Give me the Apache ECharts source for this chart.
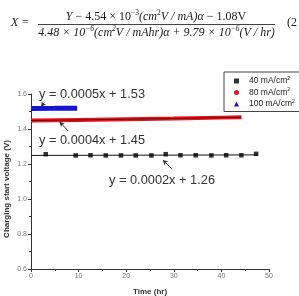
<!DOCTYPE html>
<html><head><meta charset="utf-8">
<script src="https://cdn.jsdelivr.net/npm/echarts@6/dist/echarts.min.js"></script>
<style>html,body{margin:0;padding:0;background:#fff}#c{width:299px;height:296px}</style>
</head><body><div id="c"></div>
<script>
// ---- data ----
const seriesNames = ['40 mA/cm2', '80 mA/cm2', '100 mA/cm2'];
const black40 = [[3.1,1.256],[9.4,1.249],[12.5,1.250],[15.7,1.249],[18.9,1.249],[22.0,1.249],[25.3,1.249],[28.3,1.256],[31.4,1.250],[34.6,1.250],[37.9,1.249],[41.0,1.250],[44.2,1.250],[47.3,1.258]];
const fit40 = [[0,1.249],[47.6,1.252]];
const red80 = [[0,1.448],[10,1.452],[20,1.456],[30,1.460],[40,1.465],[44.2,1.467]];
const blue100 = [[0,1.517],[5,1.518],[9.7,1.519]];
const xTicks = [0,10,20,30,40,50];
const yTicks = [0.6,0.8,1.0,1.2,1.4,1.6];
const fitLabels = ['y = 0.0005x + 1.53', 'y = 0.0004x + 1.45', 'y = 0.0002x + 1.26'];
// annotation arrows (data coords): [from, to]
const arrows = [
  [[2.8,1.552],[2.1,1.527]],
  [[7.8,1.389],[6.0,1.441]],
  [[29.6,1.172],[27.7,1.223]]
];

const chart = echarts.init(document.getElementById('c'), null, {renderer:'canvas'});
const serif = '"Liberation Serif", "DejaVu Serif", serif';
const sans = '"Liberation Sans", Arial, sans-serif';

const option = {
  animation: false,
  backgroundColor: '#fff',
  grid: {left: 31, right: 30, top: 94, bottom: 27},
  xAxis: {
    type: 'value', min: xTicks[0], max: xTicks[xTicks.length-1], interval: 10,
    axisLine: {lineStyle: {color: '#333', width: 1}},
    axisTick: {length: 3, lineStyle: {color: '#333'}},
    minorTick: {show: true, splitNumber: 2, length: 2, lineStyle: {color: '#333'}},
    splitLine: {show: false},
    axisLabel: {fontSize: 7, color: '#777', fontFamily: sans, margin: 4}
  },
  yAxis: {
    type: 'value', min: yTicks[0], max: yTicks[yTicks.length-1], interval: 0.2,
    axisLine: {show: true, lineStyle: {color: '#333', width: 1}},
    axisTick: {show: true, length: 3, lineStyle: {color: '#333'}},
    minorTick: {show: true, splitNumber: 2, length: 2, lineStyle: {color: '#333'}},
    splitLine: {show: false},
    axisLabel: {fontSize: 7, color: '#777', fontFamily: sans, margin: 4,
      formatter: v => v.toFixed(1)}
  },
  legend: {
    orient: 'vertical', left: 224, top: 72,
    padding: [4, 6, 3, 10], itemGap: 2,
    itemWidth: 5, itemHeight: 5,
    borderColor: '#444', borderWidth: 1,
    data: [
      {name: seriesNames[0], icon: 'rect'},
      {name: seriesNames[1], icon: 'circle'},
      {name: seriesNames[2], icon: 'triangle'}
    ],
    formatter: n => '{t|' + n.slice(0, -1) + '}{s|2}',
    textStyle: {
      fontFamily: sans, color: '#222',
      rich: {
        t: {fontSize: 8.5, fontFamily: sans, color: '#222', lineHeight: 10, padding: [0, 0, 0, 5]},
        s: {fontSize: 5, fontFamily: sans, color: '#222', verticalAlign: 'top', lineHeight: 10}
      }
    }
  },
  series: [
    {
      name: 'fit40', type: 'line', data: fit40, showSymbol: false, silent: true,
      lineStyle: {color: '#111', width: 1}, z: 2,
      markLine: {
        silent: true, animation: false,
        symbol: ['none', 'arrow'], symbolSize: [4, 5],
        lineStyle: {color: '#333', width: 1, type: 'solid'},
        label: {show: false},
        data: arrows.map(a => [{coord: a[0]}, {coord: a[1]}])
      }
    },
    {
      name: seriesNames[0], type: 'scatter', data: black40,
      symbol: 'rect', symbolSize: 4.5, itemStyle: {color: '#000'}, z: 3
    },
    {
      name: seriesNames[1], type: 'line', data: red80, showSymbol: false,
      itemStyle: {color: '#e8141c'},
      lineStyle: {color: '#e8141c', width: 4}, z: 2
    },
    {
      name: 'fit80', type: 'line', data: red80, showSymbol: false, silent: true,
      lineStyle: {color: '#6a0a0a', width: 1}, z: 2
    },
    {
      name: seriesNames[2], type: 'line', data: blue100, showSymbol: false,
      itemStyle: {color: '#1414d2'},
      lineStyle: {color: '#1414d2', width: 5}, z: 2
    }
  ],
  graphic: [
    // equation at top
    {type: 'text', left: 11, top: 17, style: {text: 'X =', font: 'italic 12px ' + serif, fill: '#222'}},
    {type: 'text', x: 156, y: 16.5, style: {
      text: '{i|Y}{r| − 4.54 × 10}{s|−3}{i|(cm}{s|2}{i|V / mA)α}{r| − 1.08V}',
      align: 'center', verticalAlign: 'middle',
      rich: {
        i: {font: 'italic 12px ' + serif, fill: '#222', lineHeight: 14},
        r: {font: '12px ' + serif, fill: '#222', lineHeight: 14},
        s: {font: '7.5px ' + serif, fill: '#222', verticalAlign: 'top', lineHeight: 14}
      }
    }},
    {type: 'line', shape: {x1: 38, y1: 24.5, x2: 275, y2: 24.5}, style: {stroke: '#444', lineWidth: 1}},
    {type: 'text', x: 156.5, y: 32.5, style: {
      text: '{i|4.48 × 10}{s|−6}{i|(cm}{s|2}{i|V / mAhr)α + 9.79 × 10}{s|−6}{i|(V / hr)}',
      align: 'center', verticalAlign: 'middle',
      rich: {
        i: {font: 'italic 12px ' + serif, fill: '#222', lineHeight: 14},
        s: {font: 'italic 7.5px ' + serif, fill: '#222', verticalAlign: 'top', lineHeight: 14}
      }
    }},
    {type: 'text', left: 287, top: 17, style: {text: '(2', font: '12px ' + serif, fill: '#222'}},
    // fit equations
    {type: 'text', left: 39, top: 88, style: {text: fitLabels[0], font: '12.8px ' + sans, fill: '#333'}},
    {type: 'text', left: 39, top: 134, style: {text: fitLabels[1], font: '12.8px ' + sans, fill: '#333'}},
    {type: 'text', left: 109, top: 174, style: {text: fitLabels[2], font: '12.8px ' + sans, fill: '#333'}},
    // axis titles
    {type: 'text', x: 150, y: 292, style: {text: 'Time (hr)', font: 'bold 8px ' + sans, fill: '#333', align: 'center', verticalAlign: 'middle'}},
    {type: 'text', x: 7, y: 189, rotation: Math.PI / 2, style: {text: 'Charging start voltage (V)', font: 'bold 8px ' + sans, fill: '#333', align: 'center', verticalAlign: 'middle'}}
  ]
};
chart.setOption(option);
</script></body></html>
